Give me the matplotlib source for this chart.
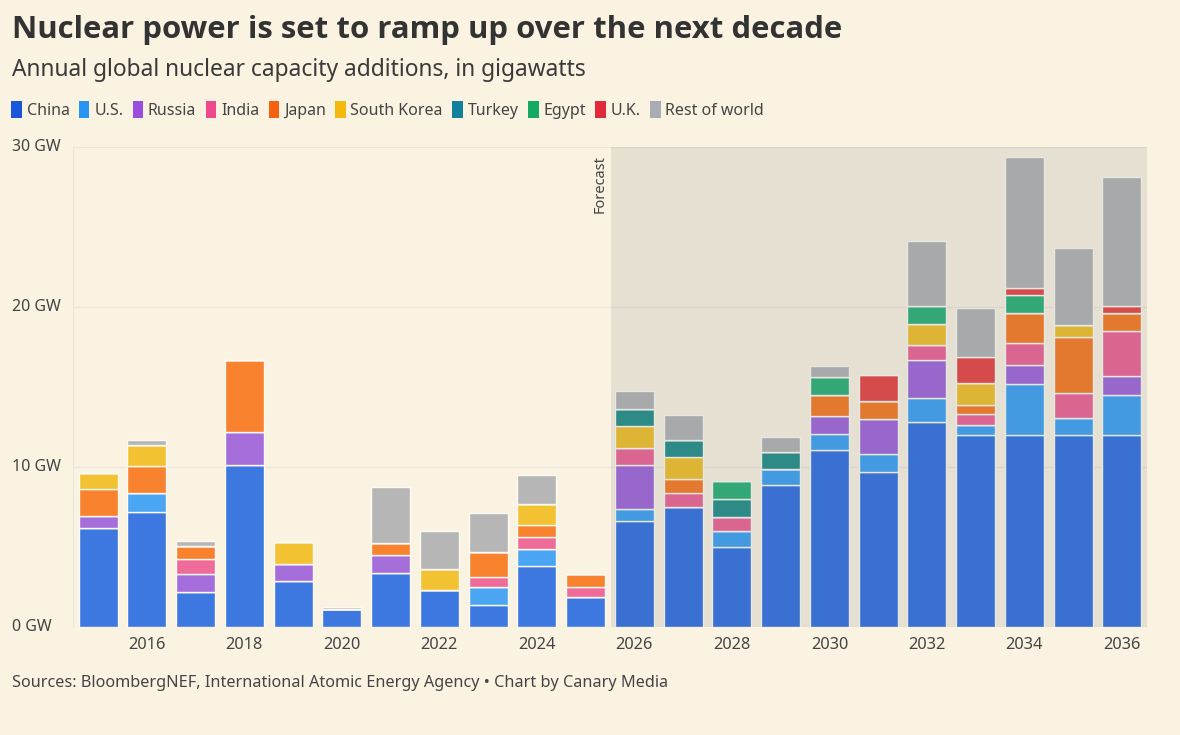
import numpy as np
import matplotlib.pyplot as plt
from matplotlib.patches import Patch

plt.rcParams['font.family'] = ['Noto Sans', 'DejaVu Sans']

years = list(range(2015, 2037))
countries = ["China", "U.S.", "Russia", "India", "Japan", "South Korea",
             "Turkey", "Egypt", "U.K.", "Rest of world"]

# GW added per year, 2015 .. 2036
china = [6.2, 7.2, 2.2, 10.1, 2.85, 1.1, 3.4, 2.3, 1.4, 3.8, 1.85,
         6.6, 7.5, 5.0, 8.9, 11.05, 9.7, 12.8, 12.0, 12.0, 12.0, 12.0]
us = [0, 1.2, 0, 0, 0, 0, 0, 0, 1.1, 1.1, 0,
      0.8, 0, 1.0, 0.95, 1.0, 1.1, 1.5, 0.6, 3.2, 1.05, 2.5]
russia = [0.75, 0, 1.1, 2.1, 1.1, 0, 1.1, 0, 0, 0, 0,
          2.7, 0, 0, 0, 1.15, 2.2, 2.4, 0, 1.15, 0, 1.2]
india = [0, 0, 0.95, 0, 0, 0, 0, 0, 0.65, 0.7, 0.65,
         1.1, 0.9, 0.9, 0, 0, 0, 0.9, 0.7, 1.4, 1.6, 2.8]
japan = [1.7, 1.65, 0.8, 4.5, 0, 0, 0.75, 0, 1.55, 0.75, 0.8,
         0, 0.85, 0, 0, 1.3, 1.1, 0, 0.55, 1.85, 3.5, 1.1]
south_korea = [1.0, 1.35, 0, 0, 1.35, 0, 0, 1.35, 0, 1.35, 0,
               1.35, 1.35, 0, 0, 0, 0, 1.35, 1.4, 0, 0.7, 0]
turkey = [0, 0, 0, 0, 0, 0, 0, 0, 0, 0, 0,
          1.1, 1.1, 1.1, 1.1, 0, 0, 0, 0, 0, 0, 0]
egypt = [0, 0, 0, 0, 0, 0, 0, 0, 0, 0, 0,
         0, 0, 1.1, 0, 1.15, 0, 1.1, 0, 1.15, 0, 0]
uk = [0, 0, 0, 0, 0, 0, 0, 0, 0, 0, 0,
      0, 0, 0, 0, 0, 1.65, 0, 1.6, 0.45, 0, 0.45]
rest = [0, 0.3, 0.3, 0, 0, 0.15, 3.5, 2.35, 2.45, 1.8, 0,
        1.1, 1.55, 0, 0.95, 0.65, 0, 4.05, 3.1, 8.2, 4.85, 8.1]

series = [china, us, russia, india, japan, south_korea, turkey, egypt, uk, rest]
bar_colors = ["#3d78e0", "#4aa6f2", "#a56edb", "#ef6b9a", "#f8822d", "#f2c233",
              "#31948f", "#37b47c", "#e94e4c", "#b6b6b6"]
legend_colors = ["#1a56db", "#2696f2", "#9a4ee0", "#ee4a8e", "#f5620f", "#f2b90f",
                 "#10809c", "#16a865", "#e02a3a", "#a9acb4"]

forecast_start = 2025.52

bg = "#fbf3e2"
ax_left, ax_bottom, ax_w, ax_h = 0.062, 0.147, 0.910, 0.653
fig = plt.figure(figsize=(11.8, 7.35), dpi=100, facecolor=bg)
ax = fig.add_axes([ax_left, ax_bottom, ax_w, ax_h], facecolor=bg)

bottom = np.zeros(len(years))
for vals, col in zip(series, bar_colors):
    vals = np.array(vals)
    ax.bar(years, vals, bottom=bottom, width=0.8, color=col,
           edgecolor="#fdfaf3", linewidth=1.0, zorder=2)
    bottom += vals

ax.set_xlim(2015 - 0.513, 2036 + 0.513)
ax.set_ylim(0, 30)

# forecast shading, laid over the bars so they look darker
ax.axvspan(forecast_start, 2036 + 0.513, color="#12293b", alpha=0.09,
           lw=0, zorder=3)
ax.text(forecast_start - 0.08, 29.5, "Forecast", rotation=90, ha="right",
        va="top", fontsize=10.5, color="#444444")

ax.set_yticks([0, 10, 20, 30])
ax.yaxis.grid(True, color="#ece6da", linewidth=1, zorder=0)
ax.set_yticklabels([])
ax.tick_params(axis="y", length=0)
for v in [0, 10, 20, 30]:
    fig.text(12 / 1180, ax_bottom + ax_h * v / 30, f"{v} GW",
             fontsize=11.5, color="#444444", va="center", ha="left")

ax.set_xticks(range(2016, 2037, 2))
ax.set_xticklabels([str(y) for y in range(2016, 2037, 2)], fontsize=11.8,
                   color="#444444")
ax.tick_params(axis="x", length=0, pad=7.5)

for s in ["top", "right", "bottom"]:
    ax.spines[s].set_visible(False)
ax.spines["left"].set_color("#ece6da")

fig.text(12 / 1180, 1 - 30 / 735, "Nuclear power is set to ramp up over the next decade",
         fontsize=22.4, fontweight="bold", family=["Open Sans", "DejaVu Sans"],
         color="#333333", va="center")
fig.text(12 / 1180, 1 - 70 / 735, "Annual global nuclear capacity additions, in gigawatts",
         fontsize=16.4, color="#3a3a3a", va="center")

handles = [Patch(facecolor=c, edgecolor="none") for c in legend_colors]
fig.legend(handles, countries, loc="center left",
           bbox_to_anchor=(-3 / 1180, 1 - 110 / 735), ncol=10, frameon=False,
           fontsize=11.5, handlelength=0.65, handleheight=1.2,
           handletextpad=0.3, columnspacing=0.6, labelcolor="#444444")

fig.text(12 / 1180, 1 - 683 / 735,
         "Sources: BloombergNEF, International Atomic Energy Agency \u2022 Chart by Canary Media",
         fontsize=11.7, color="#444444", va="center")

fig.savefig("out.png", dpi=100, facecolor=bg)
